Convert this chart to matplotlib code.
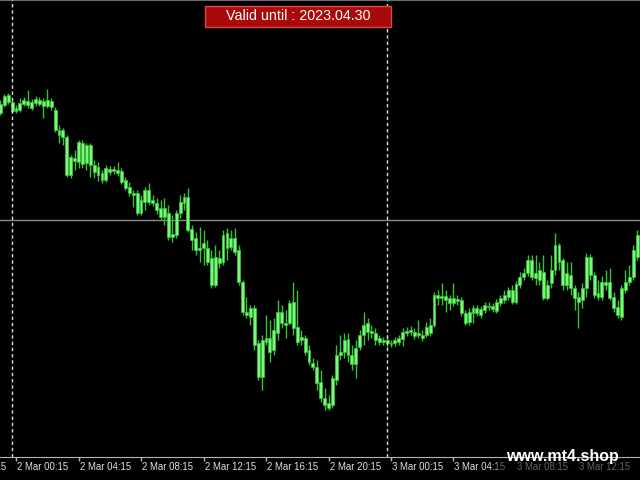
import matplotlib
matplotlib.use("Agg")
import matplotlib.pyplot as plt
import matplotlib.patches as mpatches
import matplotlib.transforms as mtrans
import numpy as np

# ---- data (15-minute bars, 2-3 Mar 2023) ----
opens = [
    1.0767, 1.0775, 1.0785, 1.0778, 1.0769, 1.0770, 1.0776, 1.0779, 1.0772, 1.0777,
    1.0780, 1.0774, 1.0774, 1.0779, 1.0770, 1.0750, 1.0743, 1.0743, 1.0705, 1.0722,
    1.0718, 1.0737, 1.0717, 1.0735, 1.0715, 1.0713, 1.0707, 1.0700, 1.0711, 1.0709,
    1.0710, 1.0709, 1.0700, 1.0693, 1.0687, 1.0687, 1.0667, 1.0678, 1.0690, 1.0680,
    1.0677, 1.0672, 1.0663, 1.0667, 1.0643, 1.0645, 1.0667, 1.0677, 1.0683, 1.0651,
    1.0642, 1.0630, 1.0632, 1.0632, 1.0622, 1.0595, 1.0622, 1.0618, 1.0647, 1.0633,
    1.0642, 1.0630, 1.0598, 1.0568, 1.0563, 1.0572, 1.0537, 1.0503, 1.0542, 1.0542,
    1.0530, 1.0547, 1.0568, 1.0557, 1.0557, 1.0578, 1.0553, 1.0540, 1.0542, 1.0530,
    1.0517, 1.0513, 1.0498, 1.0482, 1.0472, 1.0475, 1.0500, 1.0525, 1.0528, 1.0541,
    1.0525, 1.0516, 1.0533, 1.0545, 1.0557, 1.0549, 1.0547, 1.0542, 1.0538, 1.0540,
    1.0537, 1.0537, 1.0538, 1.0541, 1.0547, 1.0548, 1.0548, 1.0545, 1.0545, 1.0545,
    1.0547, 1.0555, 1.0585, 1.0582, 1.0584, 1.0582, 1.0577, 1.0581, 1.0580, 1.0567,
    1.0558, 1.0567, 1.0572, 1.0565, 1.0570, 1.0574, 1.0574, 1.0569, 1.0577, 1.0580,
    1.0583, 1.0590, 1.0578, 1.0595, 1.0603, 1.0607, 1.0620, 1.0602, 1.0610, 1.0608,
    1.0582, 1.0597, 1.0610, 1.0635, 1.0620, 1.0595, 1.0605, 1.0592, 1.0583, 1.0580,
    1.0592, 1.0623, 1.0605, 1.0587, 1.0583, 1.0598, 1.0598, 1.0583, 1.0573, 1.0563,
    1.0590, 1.0598, 1.0603, 1.0623,
]
closes = [
    1.0776, 1.0784, 1.0778, 1.0769, 1.0772, 1.0777, 1.0780, 1.0775, 1.0778, 1.0781,
    1.0776, 1.0779, 1.0780, 1.0773, 1.0750, 1.0745, 1.0750, 1.0705, 1.0723, 1.0719,
    1.0738, 1.0716, 1.0735, 1.0715, 1.0708, 1.0705, 1.0700, 1.0712, 1.0708, 1.0711,
    1.0707, 1.0698, 1.0692, 1.0687, 1.0685, 1.0667, 1.0680, 1.0690, 1.0678, 1.0677,
    1.0670, 1.0663, 1.0672, 1.0643, 1.0646, 1.0667, 1.0678, 1.0683, 1.0650, 1.0640,
    1.0630, 1.0632, 1.0637, 1.0618, 1.0595, 1.0623, 1.0617, 1.0645, 1.0632, 1.0642,
    1.0628, 1.0598, 1.0568, 1.0565, 1.0572, 1.0535, 1.0503, 1.0540, 1.0538, 1.0528,
    1.0550, 1.0568, 1.0557, 1.0555, 1.0577, 1.0552, 1.0538, 1.0543, 1.0528, 1.0518,
    1.0513, 1.0497, 1.0482, 1.0475, 1.0477, 1.0502, 1.0525, 1.0528, 1.0540, 1.0525,
    1.0516, 1.0532, 1.0545, 1.0555, 1.0548, 1.0547, 1.0540, 1.0538, 1.0540, 1.0537,
    1.0536, 1.0540, 1.0542, 1.0548, 1.0549, 1.0550, 1.0544, 1.0547, 1.0542, 1.0553,
    1.0555, 1.0585, 1.0582, 1.0584, 1.0580, 1.0577, 1.0582, 1.0579, 1.0567, 1.0557,
    1.0568, 1.0572, 1.0567, 1.0571, 1.0575, 1.0573, 1.0571, 1.0578, 1.0582, 1.0585,
    1.0590, 1.0578, 1.0596, 1.0603, 1.0607, 1.0620, 1.0603, 1.0607, 1.0600, 1.0582,
    1.0595, 1.0610, 1.0635, 1.0618, 1.0595, 1.0607, 1.0592, 1.0582, 1.0578, 1.0592,
    1.0623, 1.0605, 1.0585, 1.0583, 1.0598, 1.0595, 1.0582, 1.0572, 1.0565, 1.0592,
    1.0598, 1.0603, 1.0630, 1.0645,
]
highs = [
    1.0780, 1.0786, 1.0787, 1.0780, 1.0775, 1.0782, 1.0783, 1.0790, 1.0781, 1.0784,
    1.0783, 1.0782, 1.0791, 1.0782, 1.0773, 1.0755, 1.0752, 1.0745, 1.0725, 1.0730,
    1.0740, 1.0740, 1.0737, 1.0737, 1.0720, 1.0718, 1.0710, 1.0715, 1.0714, 1.0714,
    1.0718, 1.0712, 1.0703, 1.0698, 1.0690, 1.0690, 1.0685, 1.0693, 1.0697, 1.0685,
    1.0682, 1.0680, 1.0682, 1.0675, 1.0665, 1.0670, 1.0685, 1.0687, 1.0692, 1.0655,
    1.0648, 1.0653, 1.0650, 1.0640, 1.0630, 1.0635, 1.0630, 1.0650, 1.0652, 1.0650,
    1.0652, 1.0635, 1.0600, 1.0583, 1.0575, 1.0575, 1.0540, 1.0545, 1.0565, 1.0560,
    1.0562, 1.0580, 1.0575, 1.0570, 1.0580, 1.0598, 1.0590, 1.0550, 1.0545, 1.0535,
    1.0522, 1.0520, 1.0510, 1.0492, 1.0485, 1.0505, 1.0535, 1.0545, 1.0547, 1.0547,
    1.0535, 1.0540, 1.0550, 1.0568, 1.0562, 1.0555, 1.0552, 1.0545, 1.0543, 1.0545,
    1.0540, 1.0543, 1.0545, 1.0552, 1.0553, 1.0554, 1.0552, 1.0560, 1.0550, 1.0558,
    1.0562, 1.0588, 1.0590, 1.0597, 1.0590, 1.0585, 1.0597, 1.0585, 1.0583, 1.0570,
    1.0572, 1.0575, 1.0575, 1.0574, 1.0578, 1.0578, 1.0577, 1.0581, 1.0585, 1.0590,
    1.0593, 1.0595, 1.0599, 1.0608, 1.0612, 1.0625, 1.0625, 1.0625, 1.0618, 1.0625,
    1.0600, 1.0625, 1.0647, 1.0637, 1.0622, 1.0618, 1.0618, 1.0595, 1.0588, 1.0597,
    1.0627, 1.0626, 1.0608, 1.0600, 1.0604, 1.0610, 1.0612, 1.0588, 1.0580, 1.0595,
    1.0610, 1.0615, 1.0635, 1.0650,
]
lows = [
    1.0765, 1.0773, 1.0776, 1.0767, 1.0767, 1.0768, 1.0774, 1.0772, 1.0770, 1.0774,
    1.0774, 1.0762, 1.0772, 1.0770, 1.0748, 1.0737, 1.0735, 1.0703, 1.0702, 1.0710,
    1.0712, 1.0712, 1.0710, 1.0703, 1.0702, 1.0699, 1.0697, 1.0698, 1.0705, 1.0706,
    1.0704, 1.0696, 1.0690, 1.0684, 1.0673, 1.0665, 1.0665, 1.0670, 1.0675, 1.0674,
    1.0666, 1.0660, 1.0655, 1.0640, 1.0638, 1.0642, 1.0662, 1.0670, 1.0648, 1.0630,
    1.0625, 1.0618, 1.0615, 1.0615, 1.0592, 1.0593, 1.0612, 1.0615, 1.0620, 1.0630,
    1.0625, 1.0595, 1.0565, 1.0562, 1.0555, 1.0530, 1.0500, 1.0490, 1.0535, 1.0518,
    1.0525, 1.0540, 1.0552, 1.0542, 1.0555, 1.0545, 1.0535, 1.0535, 1.0525, 1.0515,
    1.0510, 1.0490, 1.0478, 1.0470, 1.0470, 1.0472, 1.0495, 1.0520, 1.0522, 1.0518,
    1.0510, 1.0502, 1.0530, 1.0535, 1.0540, 1.0542, 1.0535, 1.0535, 1.0535, 1.0533,
    1.0533, 1.0534, 1.0535, 1.0534, 1.0544, 1.0545, 1.0541, 1.0542, 1.0539, 1.0543,
    1.0544, 1.0553, 1.0575, 1.0575, 1.0568, 1.0570, 1.0574, 1.0575, 1.0564, 1.0555,
    1.0555, 1.0557, 1.0564, 1.0562, 1.0567, 1.0570, 1.0568, 1.0567, 1.0574, 1.0577,
    1.0580, 1.0576, 1.0576, 1.0592, 1.0600, 1.0604, 1.0600, 1.0595, 1.0595, 1.0580,
    1.0580, 1.0592, 1.0605, 1.0610, 1.0590, 1.0590, 1.0585, 1.0570, 1.0552, 1.0572,
    1.0583, 1.0600, 1.0582, 1.0580, 1.0580, 1.0590, 1.0580, 1.0568, 1.0562, 1.0560,
    1.0587, 1.0595, 1.0600, 1.0620,
]

tick_bars = [-12, 4, 20, 36, 52, 68, 84, 100, 116, 132, 148]
tick_labels = ["1 Mar 20:15", "2 Mar 00:15", "2 Mar 04:15", "2 Mar 08:15",
               "2 Mar 12:15", "2 Mar 16:15", "2 Mar 20:15", "3 Mar 00:15",
               "3 Mar 04:15", "3 Mar 08:15", "3 Mar 12:15"]
day_separators = [3, 99]
bid_line = 1.0660
badge_text = "Valid until : 2023.04.30"
watermark = "www.mt4.shop"

# ---- layout ----
W, H = 640, 480
axis_px = 457          # height of the chart area in pixels
px_per_bar = 3.906
first_bar_px = 0.4
price_top = 1.0880
price_per_px = 0.0001

fig = plt.figure(figsize=(W / 100, H / 100), dpi=100, facecolor="black")
ax = fig.add_axes([0, (H - axis_px) / H, 1, axis_px / H])
ax.set_facecolor("black")

o = np.array(opens)
c = np.array(closes)
x = np.arange(len(c))
bottoms = np.minimum(o, c)
heights = np.maximum(np.abs(c - o), 0.0001)

ax.axhline(bid_line, color="#8a8a8a", lw=1, zorder=1)
for b in day_separators:
    ax.axvline(b, color="#dcdcdc", lw=1, ls=(0, (2.5, 2)), zorder=4)

ax.vlines(x, lows, highs, color="#36c436", lw=1.0, zorder=2)
ax.bar(x, heights, bottom=bottoms, width=0.74, color="#80f480",
       edgecolor="#34c034", linewidth=0.6, zorder=3)

for s in ["left", "right"]:
    ax.spines[s].set_visible(False)
ax.spines["bottom"].set_color("#b4b4b4")
ax.spines["top"].set_color("#6a6a6a")
ax.set_yticks([])
ax.set_xticks(tick_bars)
ax.set_xticklabels([])
ax.tick_params(axis="x", length=3, width=1, color="#b4b4b4", direction="out")

# limits set after the ticks so the off-screen tick does not widen the view
ax.set_xlim(-first_bar_px / px_per_bar, (W - first_bar_px) / px_per_bar)
ax.set_ylim(price_top - axis_px * price_per_px, price_top)

blend = mtrans.blended_transform_factory(ax.transData, ax.transAxes)
off = mtrans.ScaledTranslation(1.0 / 100, -9.5 / 100, fig.dpi_scale_trans)
for b, lab in zip(tick_bars, tick_labels):
    ax.text(b, 0, lab, transform=blend + off, ha="left", va="center",
            color="#e0e0e0", fontsize=6.9, family="Liberation Sans",
            clip_on=False)

# watermark
fig.patches.append(mpatches.Rectangle((497 / W, 0), 143 / W, 21 / H,
                                      transform=fig.transFigure, facecolor="black",
                                      edgecolor="none", alpha=0.55, zorder=5))
fig.text(562 / W, 1 - 456 / H, watermark, color="white", fontsize=11.5,
         fontweight="bold", family="Liberation Sans", ha="center", va="center",
         zorder=6)

# badge
fig.patches.append(mpatches.Rectangle((205 / W, 1 - 27 / H), 186 / W, 21 / H,
                                      transform=fig.transFigure, facecolor="#a80a0a",
                                      edgecolor="#d24a4a", lw=1, zorder=5))
fig.text(298 / W, 1 - 16.5 / H, badge_text, color="white", fontsize=10.3,
         family="Liberation Sans", ha="center", va="center", zorder=6)

fig.savefig("out.png", dpi=100, facecolor="black")
